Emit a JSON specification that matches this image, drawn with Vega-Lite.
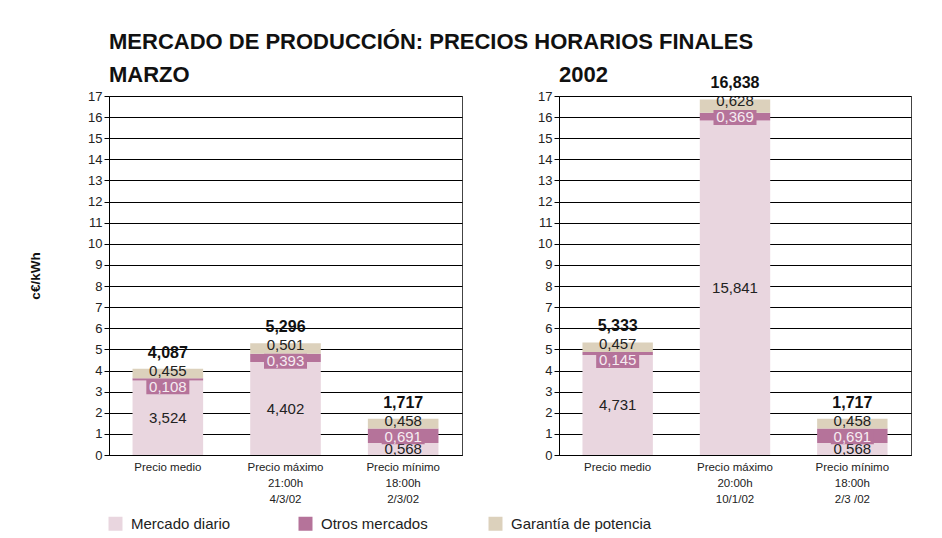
{
  "$schema": "https://vega.github.io/schema/vega-lite/v6.json",
  "padding": {"left": 28, "top": 30, "right": 5, "bottom": 5},
  "background": "#ffffff",
  "bounds": "flush",
  "spacing": 97,
  "datasets": {
    "precios": [
      {"panel": "MARZO", "cat": "Precio medio", "serie": "Mercado diario", "orden": 1, "valor": 3.524},
      {"panel": "MARZO", "cat": "Precio medio", "serie": "Otros mercados", "orden": 2, "valor": 0.108},
      {"panel": "MARZO", "cat": "Precio medio", "serie": "Garantía de potencia", "orden": 3, "valor": 0.455},
      {"panel": "MARZO", "cat": "Precio máximo|21:00h|4/3/02", "serie": "Mercado diario", "orden": 1, "valor": 4.402},
      {"panel": "MARZO", "cat": "Precio máximo|21:00h|4/3/02", "serie": "Otros mercados", "orden": 2, "valor": 0.393},
      {"panel": "MARZO", "cat": "Precio máximo|21:00h|4/3/02", "serie": "Garantía de potencia", "orden": 3, "valor": 0.501},
      {"panel": "MARZO", "cat": "Precio mínimo|18:00h|2/3/02", "serie": "Mercado diario", "orden": 1, "valor": 0.568},
      {"panel": "MARZO", "cat": "Precio mínimo|18:00h|2/3/02", "serie": "Otros mercados", "orden": 2, "valor": 0.691},
      {"panel": "MARZO", "cat": "Precio mínimo|18:00h|2/3/02", "serie": "Garantía de potencia", "orden": 3, "valor": 0.458},
      {"panel": "2002", "cat": "Precio medio", "serie": "Mercado diario", "orden": 1, "valor": 4.731},
      {"panel": "2002", "cat": "Precio medio", "serie": "Otros mercados", "orden": 2, "valor": 0.145},
      {"panel": "2002", "cat": "Precio medio", "serie": "Garantía de potencia", "orden": 3, "valor": 0.457},
      {"panel": "2002", "cat": "Precio máximo|20:00h|10/1/02", "serie": "Mercado diario", "orden": 1, "valor": 15.841},
      {"panel": "2002", "cat": "Precio máximo|20:00h|10/1/02", "serie": "Otros mercados", "orden": 2, "valor": 0.369},
      {"panel": "2002", "cat": "Precio máximo|20:00h|10/1/02", "serie": "Garantía de potencia", "orden": 3, "valor": 0.628},
      {"panel": "2002", "cat": "Precio mínimo|18:00h|2/3 /02", "serie": "Mercado diario", "orden": 1, "valor": 0.568},
      {"panel": "2002", "cat": "Precio mínimo|18:00h|2/3 /02", "serie": "Otros mercados", "orden": 2, "valor": 0.691},
      {"panel": "2002", "cat": "Precio mínimo|18:00h|2/3 /02", "serie": "Garantía de potencia", "orden": 3, "valor": 0.458}
    ]
  },
  "resolve": {"scale": {"x": "independent", "y": "independent", "color": "shared"}, "legend": {"color": "shared"}},
  "hconcat": [
    {
      "width": 353,
      "height": 359,
      "title": {"text": ["MERCADO DE PRODUCCIÓN: PRECIOS HORARIOS FINALES", "MARZO"]},
      "data": {"name": "precios"},
      "transform": [
        {"filter": "datum.panel === 'MARZO'"},
        {"joinaggregate": [{"op": "sum", "field": "valor", "as": "total"}], "groupby": ["cat"]},
        {"calculate": "replace(format(datum.valor, '.3f'), '.', ',')", "as": "etiqueta"},
        {"calculate": "replace(format(datum.total, '.3f'), '.', ',')", "as": "etiquetaTotal"},
        {"calculate": "datum.valor / 2", "as": "mitad"}
      ],
      "encoding": {
        "x": {"field": "cat", "type": "nominal", "sort": null, "title": null,
              "scale": {"paddingInner": 0.4, "paddingOuter": 0.2},
              "axis": {"labelExpr": "split(datum.label, '|')", "labelAngle": 0, "ticks": false, "labelPadding": 6, "labelLineHeight": 16, "labelFontSize": 11.5}}
      },
      "layer": [
        {
          "mark": {"type": "bar"},
          "encoding": {
            "y": {"field": "valor", "type": "quantitative", "stack": "zero", "title": "c€/kWh",
                  "scale": {"domain": [0, 17], "nice": false},
                  "axis": {"values": [0,1,2,3,4,5,6,7,8,9,10,11,12,13,14,15,16,17], "grid": true, "labelOverlap": false, "titlePadding": 45, "titleFontSize": 13.5, "titleFontWeight": "bold"}},
            "color": {"field": "serie", "type": "nominal",
                      "scale": {"domain": ["Mercado diario", "Otros mercados", "Garantía de potencia"], "range": ["#e9d6df", "#b5739a", "#dcd1bc"]},
                      "legend": {"orient": "none", "legendX": -1, "legendY": 420, "direction": "horizontal", "columns": 3, "gridAlign": "all", "columnPadding": 26, "symbolType": "square", "symbolSize": 196, "symbolStrokeWidth": 0, "symbolOpacity": 1, "labelFontSize": 15, "labelOffset": 8, "labelLimit": 300, "title": null}},
            "order": {"field": "orden", "type": "quantitative"}
          }
        },
        {
          "transform": [{"filter": "datum.serie === 'Mercado diario'"}],
          "mark": {"type": "text", "fontSize": 15, "color": "#222"},
          "encoding": {"y": {"field": "mitad", "type": "quantitative", "stack": null, "title": "c€/kWh", "axis": {"values": [0,1,2,3,4,5,6,7,8,9,10,11,12,13,14,15,16,17], "grid": true, "labelOverlap": false, "titlePadding": 45, "titleFontSize": 13.5, "titleFontWeight": "bold"}}, "text": {"field": "etiqueta"}}
        },
        {
          "transform": [{"filter": "datum.serie === 'Otros mercados'"}],
          "mark": {"type": "point", "shape": "M-1,-0.35L1,-0.35L1,0.35L-1,0.35Z", "filled": true, "color": "#b5739a", "opacity": 1, "size": 1849, "strokeWidth": 0, "yOffset": 18},
          "encoding": {"y": {"field": "total", "type": "quantitative", "stack": null, "title": "c€/kWh", "axis": {"values": [0,1,2,3,4,5,6,7,8,9,10,11,12,13,14,15,16,17], "grid": true, "labelOverlap": false, "titlePadding": 45, "titleFontSize": 13.5, "titleFontWeight": "bold"}}}
        },
        {
          "transform": [{"filter": "datum.serie === 'Otros mercados'"}],
          "mark": {"type": "text", "fontSize": 15, "color": "#f6ecf1", "dy": 18},
          "encoding": {"y": {"field": "total", "type": "quantitative", "stack": null, "title": "c€/kWh", "axis": {"values": [0,1,2,3,4,5,6,7,8,9,10,11,12,13,14,15,16,17], "grid": true, "labelOverlap": false, "titlePadding": 45, "titleFontSize": 13.5, "titleFontWeight": "bold"}}, "text": {"field": "etiqueta"}}
        },
        {
          "transform": [{"filter": "datum.serie === 'Garantía de potencia'"}],
          "mark": {"type": "text", "fontSize": 15, "color": "#222", "dy": 2},
          "encoding": {"y": {"field": "total", "type": "quantitative", "stack": null, "title": "c€/kWh", "axis": {"values": [0,1,2,3,4,5,6,7,8,9,10,11,12,13,14,15,16,17], "grid": true, "labelOverlap": false, "titlePadding": 45, "titleFontSize": 13.5, "titleFontWeight": "bold"}}, "text": {"field": "etiqueta"}}
        },
        {
          "transform": [{"filter": "datum.serie === 'Garantía de potencia'"}],
          "mark": {"type": "text", "fontSize": 16, "fontWeight": "bold", "color": "#111", "dy": -16},
          "encoding": {"y": {"field": "total", "type": "quantitative", "stack": null, "title": "c€/kWh", "axis": {"values": [0,1,2,3,4,5,6,7,8,9,10,11,12,13,14,15,16,17], "grid": true, "labelOverlap": false, "titlePadding": 45, "titleFontSize": 13.5, "titleFontWeight": "bold"}}, "text": {"field": "etiquetaTotal"}}
        }
      ]
    },
    {
      "width": 352,
      "height": 359,
      "title": {"text": "2002", "dy": 15},
      "data": {"name": "precios"},
      "transform": [
        {"filter": "datum.panel === '2002'"},
        {"joinaggregate": [{"op": "sum", "field": "valor", "as": "total"}], "groupby": ["cat"]},
        {"calculate": "replace(format(datum.valor, '.3f'), '.', ',')", "as": "etiqueta"},
        {"calculate": "replace(format(datum.total, '.3f'), '.', ',')", "as": "etiquetaTotal"},
        {"calculate": "datum.valor / 2", "as": "mitad"}
      ],
      "encoding": {
        "x": {"field": "cat", "type": "nominal", "sort": null, "title": null,
              "scale": {"paddingInner": 0.4, "paddingOuter": 0.2},
              "axis": {"labelExpr": "split(datum.label, '|')", "labelAngle": 0, "ticks": false, "labelPadding": 6, "labelLineHeight": 16, "labelFontSize": 11.5}}
      },
      "layer": [
        {
          "mark": {"type": "bar"},
          "encoding": {
            "y": {"field": "valor", "type": "quantitative", "stack": "zero", "title": null,
                  "scale": {"domain": [0, 17], "nice": false},
                  "axis": {"values": [0,1,2,3,4,5,6,7,8,9,10,11,12,13,14,15,16,17], "grid": true, "labelOverlap": false}},
            "color": {"field": "serie", "type": "nominal",
                      "scale": {"domain": ["Mercado diario", "Otros mercados", "Garantía de potencia"], "range": ["#e9d6df", "#b5739a", "#dcd1bc"]},
                      "legend": {"orient": "none", "legendX": -1, "legendY": 420, "direction": "horizontal", "columns": 3, "gridAlign": "all", "columnPadding": 26, "symbolType": "square", "symbolSize": 196, "symbolStrokeWidth": 0, "symbolOpacity": 1, "labelFontSize": 15, "labelOffset": 8, "labelLimit": 300, "title": null}},
            "order": {"field": "orden", "type": "quantitative"}
          }
        },
        {
          "transform": [{"filter": "datum.serie === 'Mercado diario'"}],
          "mark": {"type": "text", "fontSize": 15, "color": "#222"},
          "encoding": {"y": {"field": "mitad", "type": "quantitative", "stack": null, "title": null, "axis": {"values": [0,1,2,3,4,5,6,7,8,9,10,11,12,13,14,15,16,17], "grid": true, "labelOverlap": false}}, "text": {"field": "etiqueta"}}
        },
        {
          "transform": [{"filter": "datum.serie === 'Otros mercados'"}],
          "mark": {"type": "point", "shape": "M-1,-0.35L1,-0.35L1,0.35L-1,0.35Z", "filled": true, "color": "#b5739a", "opacity": 1, "size": 1849, "strokeWidth": 0, "yOffset": 18},
          "encoding": {"y": {"field": "total", "type": "quantitative", "stack": null, "title": null, "axis": {"values": [0,1,2,3,4,5,6,7,8,9,10,11,12,13,14,15,16,17], "grid": true, "labelOverlap": false}}}
        },
        {
          "transform": [{"filter": "datum.serie === 'Otros mercados'"}],
          "mark": {"type": "text", "fontSize": 15, "color": "#f6ecf1", "dy": 18},
          "encoding": {"y": {"field": "total", "type": "quantitative", "stack": null, "title": null, "axis": {"values": [0,1,2,3,4,5,6,7,8,9,10,11,12,13,14,15,16,17], "grid": true, "labelOverlap": false}}, "text": {"field": "etiqueta"}}
        },
        {
          "transform": [{"filter": "datum.serie === 'Garantía de potencia'"}],
          "mark": {"type": "text", "fontSize": 15, "color": "#222", "dy": 2},
          "encoding": {"y": {"field": "total", "type": "quantitative", "stack": null, "title": null, "axis": {"values": [0,1,2,3,4,5,6,7,8,9,10,11,12,13,14,15,16,17], "grid": true, "labelOverlap": false}}, "text": {"field": "etiqueta"}}
        },
        {
          "transform": [{"filter": "datum.serie === 'Garantía de potencia'"}],
          "mark": {"type": "text", "fontSize": 16, "fontWeight": "bold", "color": "#111", "dy": -16},
          "encoding": {"y": {"field": "total", "type": "quantitative", "stack": null, "title": null, "axis": {"values": [0,1,2,3,4,5,6,7,8,9,10,11,12,13,14,15,16,17], "grid": true, "labelOverlap": false}}, "text": {"field": "etiquetaTotal"}}
        }
      ]
    }
  ],
  "config": {
    "font": "Liberation Sans",
    "view": {"stroke": "#444", "strokeWidth": 1},
    "axis": {"labelColor": "#222", "labelFontSize": 13, "domainColor": "#000", "tickColor": "#000", "tickSize": 5, "labelPadding": 2, "gridColor": "#000", "gridOpacity": 1, "gridWidth": 1, "titleColor": "#111"},
    "legend": {"labelColor": "#222", "labelFontSize": 15},
    "title": {"fontSize": 22, "fontWeight": "bold", "color": "#111", "anchor": "start", "frame": "group", "baseline": "bottom", "lineHeight": 33, "offset": 3}
  }
}
